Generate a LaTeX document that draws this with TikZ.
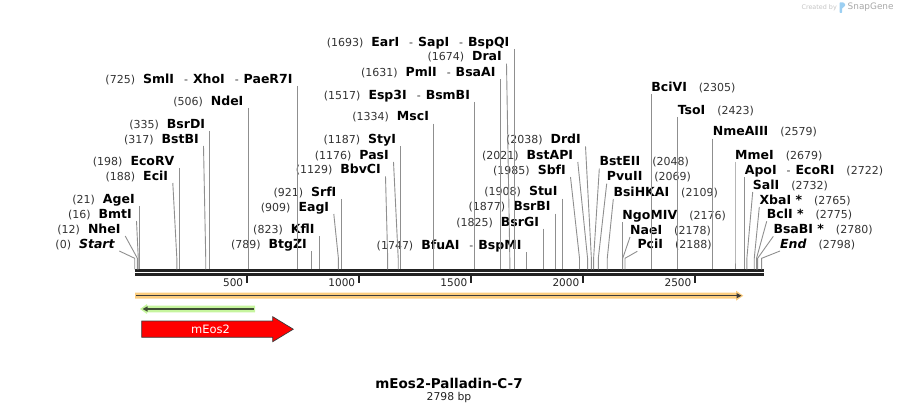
\documentclass[tikz,border=0pt]{standalone}
\usepackage{fontspec}
\setmainfont{DejaVu Sans}
\usepackage{xcolor}
\definecolor{cBar}{HTML}{222222}
\definecolor{cCut}{HTML}{8F8F8F}
\definecolor{cNum}{HTML}{333333}
\definecolor{cOrange}{HTML}{FCCD7E}
\definecolor{cGreen}{HTML}{C6F59E}
\definecolor{cDark}{HTML}{3C3C3C}
\definecolor{cGreenDark}{HTML}{3E4D33}
\definecolor{cRed}{HTML}{FF0000}
\definecolor{cLogo}{HTML}{A8A8A8}
\definecolor{cLogoLight}{HTML}{C4C4C4}
\definecolor{cLogoBlue}{HTML}{9CCFF2}
\usepackage{tikz}
\usetikzlibrary{arrows.meta}
% bp -> x on the ruler (1pt = 1px of the map)
\newcommand{\bpx}[1]{134.7+0.22408*#1}
\newcommand{\enz}[1]{{\color{black}\fontsize{12.5}{14}\selectfont\bfseries #1}}
\tikzset{
  lbl-l/.style={anchor=base east,inner xsep=4.5pt,inner ysep=0pt,
    text height=9pt,text depth=2.5pt,font=\fontsize{11}{13}\selectfont,text=cNum},
  lbl-r/.style={anchor=base west,inner xsep=0pt,inner ysep=0pt,
    text height=9pt,text depth=2.5pt,font=\fontsize{11}{13}\selectfont,text=cNum},
  cut/.style={draw=cCut,line width=0.9pt},
  seq-line/.style={draw=cBar,line width=2.2pt},
  ruler-tick/.style={draw=cBar,line width=1.8pt},
  ruler-lbl/.style={anchor=east,inner sep=0pt,font=\fontsize{10.5}{12}\selectfont,text=cBar},
  feat-line/.style={draw=cDark,line width=1.3pt},
}

\begin{document}
\begin{tikzpicture}[x=1pt,y=-1pt]
  \useasboundingbox (0,0) rectangle (899,414);

  % sequence and ruler
  \draw[seq-line] (135,270.5) -- (764,270.5);
  \draw[seq-line] (135,274.5) -- (764,274.5);
  \draw[ruler-tick] ({\bpx{500}},275.5)  -- ({\bpx{500}},282.7);
  \draw[ruler-tick] ({\bpx{1000}},275.5) -- ({\bpx{1000}},282.7);
  \draw[ruler-tick] ({\bpx{1500}},275.5) -- ({\bpx{1500}},282.7);
  \draw[ruler-tick] ({\bpx{2000}},275.5) -- ({\bpx{2000}},282.7);
  \draw[ruler-tick] ({\bpx{2500}},275.5) -- ({\bpx{2500}},282.7);
  \node[ruler-lbl] (t500)  at ({\bpx{500}-3.4},282.2)  {500};
  \node[ruler-lbl] (t1000) at ({\bpx{1000}-3.4},282.2) {1000};
  \node[ruler-lbl] (t1500) at ({\bpx{1500}-3.4},282.2) {1500};
  \node[ruler-lbl] (t2000) at ({\bpx{2000}-3.4},282.2) {2000};
  \node[ruler-lbl] (t2500) at ({\bpx{2500}-3.4},282.2) {2500};

  % cut sites on the sequence
  \coordinate (s-start)   at ({\bpx{0}},269.3);
  \coordinate (s-nhei)    at ({\bpx{12}},269.3);
  \coordinate (s-bmti)    at ({\bpx{16}},269.3);
  \coordinate (s-agei)    at ({\bpx{21}},269.3);
  \coordinate (s-ecii)    at ({\bpx{188}},269.3);
  \coordinate (s-ecorv)   at ({\bpx{198}},269.3);
  \coordinate (s-bstbi)   at ({\bpx{317}},269.3);
  \coordinate (s-bsrdi)   at ({\bpx{335}},269.3);
  \coordinate (s-ndei)    at ({\bpx{506}},269.3);
  \coordinate (s-smli)    at ({\bpx{725}},269.3);
  \coordinate (s-btgzi)   at ({\bpx{789}},269.3);
  \coordinate (s-kfli)    at ({\bpx{823}},269.3);
  \coordinate (s-eagi)    at ({\bpx{909}},269.3);
  \coordinate (s-srfi)    at ({\bpx{921}},269.3);
  \coordinate (s-bbvci)   at ({\bpx{1129}},269.3);
  \coordinate (s-pasi)    at ({\bpx{1176}},269.3);
  \coordinate (s-styi)    at ({\bpx{1187}},269.3);
  \coordinate (s-msci)    at ({\bpx{1334}},269.3);
  \coordinate (s-esp3i)   at ({\bpx{1517}},269.3);
  \coordinate (s-pmli)    at ({\bpx{1631}},269.3);
  \coordinate (s-drai)    at ({\bpx{1674}},269.3);
  \coordinate (s-eari)    at ({\bpx{1693}},269.3);
  \coordinate (s-bfuai)   at ({\bpx{1747}},269.3);
  \coordinate (s-bsrgi)   at ({\bpx{1825}},269.3);
  \coordinate (s-bsrbi)   at ({\bpx{1877}},269.3);
  \coordinate (s-stui)    at ({\bpx{1908}},269.3);
  \coordinate (s-sbfi)    at ({\bpx{1985}},269.3);
  \coordinate (s-bstapi)  at ({\bpx{2021}},269.3);
  \coordinate (s-drdi)    at ({\bpx{2038}},269.3);
  \coordinate (s-bsteii)  at ({\bpx{2048}},269.3);
  \coordinate (s-pvuii)   at ({\bpx{2069}},269.3);
  \coordinate (s-bsihkai) at ({\bpx{2109}},269.3);
  \coordinate (s-ngomiv)  at ({\bpx{2176}},269.3);
  \coordinate (s-naei)    at ({\bpx{2178}},269.3);
  \coordinate (s-pcii)    at ({\bpx{2188}},269.3);
  \coordinate (s-bcivi)   at ({\bpx{2305}},269.3);
  \coordinate (s-tsoi)    at ({\bpx{2423}},269.3);
  \coordinate (s-nmeaiii) at ({\bpx{2579}},269.3);
  \coordinate (s-mmei)    at ({\bpx{2679}},269.3);
  \coordinate (s-apoi)    at ({\bpx{2722}},269.3);
  \coordinate (s-sali)    at ({\bpx{2732}},269.3);
  \coordinate (s-xbai)    at ({\bpx{2765}},269.3);
  \coordinate (s-bcli)    at ({\bpx{2775}},269.3);
  \coordinate (s-bsabi)   at ({\bpx{2780}},269.3);
  \coordinate (s-end)     at ({\bpx{2798}},269.3);

  % enzymes, labels to the left of their line
  \node[lbl-l] (n-start)  at (119.3,248.3)          {(0)\hspace{8pt}\enz{\itshape Start}};
  \node[lbl-l] (n-nhei)   at (125.2,233.3)          {(12)\hspace{8pt}\enz{NheI}};
  \node[lbl-l] (n-bmti)   at (136.5,218.3)          {(16)\hspace{8pt}\enz{BmtI}};
  \node[lbl-l] (n-agei)   at ({\bpx{21}},203.3)     {(21)\hspace{8pt}\enz{AgeI}};
  \node[lbl-l] (n-ecii)   at (172.8,180.3)          {(188)\hspace{8pt}\enz{EciI}};
  \node[lbl-l] (n-ecorv)  at ({\bpx{198}},165.3)    {(198)\hspace{8pt}\enz{EcoRV}};
  \node[lbl-l] (n-bstbi)  at (203.5,143.3)          {(317)\hspace{8pt}\enz{BstBI}};
  \node[lbl-l] (n-bsrdi)  at ({\bpx{335}},128.3)    {(335)\hspace{8pt}\enz{BsrDI}};
  \node[lbl-l] (n-ndei)   at ({\bpx{506}},105.3)    {(506)\hspace{8pt}\enz{NdeI}};
  \node[lbl-l] (n-smli)   at ({\bpx{725}},83.3)     {(725)\hspace{8pt}\enz{SmlI}\hspace{10pt}-\hspace{5pt}\enz{XhoI}\hspace{10pt}-\hspace{5pt}\enz{PaeR7I}};
  \node[lbl-l] (n-btgzi)  at ({\bpx{789}},248.3)    {(789)\hspace{8pt}\enz{BtgZI}};
  \node[lbl-l] (n-kfli)   at ({\bpx{823}},233.3)    {(823)\hspace{8pt}\enz{KflI}};
  \node[lbl-l] (n-eagi)   at (333.8,211.3)          {(909)\hspace{8pt}\enz{EagI}};
  \node[lbl-l] (n-srfi)   at ({\bpx{921}},196.3)    {(921)\hspace{8pt}\enz{SrfI}};
  \node[lbl-l] (n-bbvci)  at (385.5,173.6)          {(1129)\hspace{8pt}\enz{BbvCI}};
  \node[lbl-l] (n-pasi)   at (393.5,159.3)          {(1176)\hspace{8pt}\enz{PasI}};
  \node[lbl-l] (n-styi)   at ({\bpx{1187}},143.6)   {(1187)\hspace{8pt}\enz{StyI}};
  \node[lbl-l] (n-msci)   at ({\bpx{1334}},121)     {(1334)\hspace{8pt}\enz{MscI}};
  \node[lbl-l] (n-esp3i)  at ({\bpx{1517}},99.3)    {(1517)\hspace{8pt}\enz{Esp3I}\hspace{10pt}-\hspace{5pt}\enz{BsmBI}};
  \node[lbl-l] (n-pmli)   at ({\bpx{1631}},76.6)    {(1631)\hspace{8pt}\enz{PmlI}\hspace{10pt}-\hspace{5pt}\enz{BsaAI}};
  \node[lbl-l] (n-drai)   at (506.5,61)             {(1674)\hspace{8pt}\enz{DraI}};
  \node[lbl-l] (n-eari)   at ({\bpx{1693}},46.3)    {(1693)\hspace{8pt}\enz{EarI}\hspace{10pt}-\hspace{5pt}\enz{SapI}\hspace{10pt}-\hspace{5pt}\enz{BspQI}};
  \node[lbl-l] (n-bfuai)  at ({\bpx{1747}},249.3)   {(1747)\hspace{8pt}\enz{BfuAI}\hspace{10pt}-\hspace{5pt}\enz{BspMI}};
  \node[lbl-l] (n-bsrgi)  at ({\bpx{1825}},226)     {(1825)\hspace{8pt}\enz{BsrGI}};
  \node[lbl-l] (n-bsrbi)  at ({\bpx{1877}},211)     {(1877)\hspace{8pt}\enz{BsrBI}};
  \node[lbl-l] (n-stui)   at ({\bpx{1908}},196)     {(1908)\hspace{8pt}\enz{StuI}};
  \node[lbl-l] (n-sbfi)   at (570.5,174.3)          {(1985)\hspace{8pt}\enz{SbfI}};
  \node[lbl-l] (n-bstapi) at (577.8,159.3)          {(2021)\hspace{8pt}\enz{BstAPI}};
  \node[lbl-l] (n-drdi)   at (585.5,143.6)          {(2038)\hspace{8pt}\enz{DrdI}};

  % enzymes, labels to the right of their line
  \node[lbl-r] (n-bsteii)  at (599.3,166)           {\enz{BstEII}\hspace{12pt}(2048)};
  \node[lbl-r] (n-pvuii)   at (606.7,181)           {\enz{PvuII}\hspace{12pt}(2069)};
  \node[lbl-r] (n-bsihkai) at (613.3,196.3)         {\enz{BsiHKAI}\hspace{12pt}(2109)};
  \node[lbl-r] (n-ngomiv)  at ({\bpx{2176}},219.3)  {\enz{NgoMIV}\hspace{12pt}(2176)};
  \node[lbl-r] (n-naei)    at (630,234.3)           {\enz{NaeI}\hspace{12pt}(2178)};
  \node[lbl-r] (n-pcii)    at (637.3,248.6)         {\enz{PciI}\hspace{12pt}(2188)};
  \node[lbl-r] (n-bcivi)   at ({\bpx{2305}},91.6)   {\enz{BciVI}\hspace{12pt}(2305)};
  \node[lbl-r] (n-tsoi)    at ({\bpx{2423}},114.3)  {\enz{TsoI}\hspace{12pt}(2423)};
  \node[lbl-r] (n-nmeaiii) at ({\bpx{2579}},136)    {\enz{NmeAIII}\hspace{12pt}(2579)};
  \node[lbl-r] (n-mmei)    at ({\bpx{2679}},159.3)  {\enz{MmeI}\hspace{12pt}(2679)};
  \node[lbl-r] (n-apoi)    at ({\bpx{2722}},174.3)  {\enz{ApoI}\hspace{10pt}-\hspace{5pt}\enz{EcoRI}\hspace{12pt}(2722)};
  \node[lbl-r] (n-sali)    at (752.7,189.3)         {\enz{SalI}\hspace{12pt}(2732)};
  \node[lbl-r] (n-xbai)    at (759.3,204.3)         {\enz{XbaI *}\hspace{12pt}(2765)};
  \node[lbl-r] (n-bcli)    at (766.7,218.6)         {\enz{BclI *}\hspace{12pt}(2775)};
  \node[lbl-r] (n-bsabi)   at (773.3,233.6)         {\enz{BsaBI *}\hspace{12pt}(2780)};
  \node[lbl-r] (n-end)     at (780,248.3)           {\enz{\itshape End}\hspace{12pt}(2798)};

  % site lines
  \draw[cut] (n-start.south east)  -- ([yshift=11pt]s-start)  -- (s-start);
  \draw[cut] (n-nhei.south east)   -- ([yshift=11pt]s-nhei)   -- (s-nhei);
  \draw[cut] (n-bmti.south east)   -- ([yshift=11pt]s-bmti)   -- (s-bmti);
  \draw[cut] (n-agei.south east)   -- ([yshift=11pt]s-agei)   -- (s-agei);
  \draw[cut] (n-ecii.south east)   -- ([yshift=11pt]s-ecii)   -- (s-ecii);
  \draw[cut] (n-ecorv.south east)  -- ([yshift=11pt]s-ecorv)  -- (s-ecorv);
  \draw[cut] (n-bstbi.south east)  -- ([yshift=11pt]s-bstbi)  -- (s-bstbi);
  \draw[cut] (n-bsrdi.south east)  -- ([yshift=11pt]s-bsrdi)  -- (s-bsrdi);
  \draw[cut] (n-ndei.south east)   -- ([yshift=11pt]s-ndei)   -- (s-ndei);
  \draw[cut] (n-smli.south east)   -- ([yshift=11pt]s-smli)   -- (s-smli);
  \draw[cut] (n-btgzi.south east)  -- ([yshift=11pt]s-btgzi)  -- (s-btgzi);
  \draw[cut] (n-kfli.south east)   -- ([yshift=11pt]s-kfli)   -- (s-kfli);
  \draw[cut] (n-eagi.south east)   -- ([yshift=11pt]s-eagi)   -- (s-eagi);
  \draw[cut] (n-srfi.south east)   -- ([yshift=11pt]s-srfi)   -- (s-srfi);
  \draw[cut] (n-bbvci.south east)  -- ([yshift=11pt]s-bbvci)  -- (s-bbvci);
  \draw[cut] (n-pasi.south east)   -- ([yshift=11pt]s-pasi)   -- (s-pasi);
  \draw[cut] (n-styi.south east)   -- ([yshift=11pt]s-styi)   -- (s-styi);
  \draw[cut] (n-msci.south east)   -- ([yshift=11pt]s-msci)   -- (s-msci);
  \draw[cut] (n-esp3i.south east)  -- ([yshift=11pt]s-esp3i)  -- (s-esp3i);
  \draw[cut] (n-pmli.south east)   -- ([yshift=11pt]s-pmli)   -- (s-pmli);
  \draw[cut] (n-drai.south east)   -- ([yshift=11pt]s-drai)   -- (s-drai);
  \draw[cut] (n-eari.south east)   -- ([yshift=11pt]s-eari)   -- (s-eari);
  \draw[cut] (n-bfuai.south east)  -- ([yshift=11pt]s-bfuai)  -- (s-bfuai);
  \draw[cut] (n-bsrgi.south east)  -- ([yshift=11pt]s-bsrgi)  -- (s-bsrgi);
  \draw[cut] (n-bsrbi.south east)  -- ([yshift=11pt]s-bsrbi)  -- (s-bsrbi);
  \draw[cut] (n-stui.south east)   -- ([yshift=11pt]s-stui)   -- (s-stui);
  \draw[cut] (n-sbfi.south east)   -- ([yshift=11pt]s-sbfi)   -- (s-sbfi);
  \draw[cut] (n-bstapi.south east) -- ([yshift=11pt]s-bstapi) -- (s-bstapi);
  \draw[cut] (n-drdi.south east)   -- ([yshift=11pt]s-drdi)   -- (s-drdi);
  \draw[cut] (n-bsteii.south west)  -- ([yshift=11pt]s-bsteii)  -- (s-bsteii);
  \draw[cut] (n-pvuii.south west)   -- ([yshift=11pt]s-pvuii)   -- (s-pvuii);
  \draw[cut] (n-bsihkai.south west) -- ([yshift=11pt]s-bsihkai) -- (s-bsihkai);
  \draw[cut] (n-ngomiv.south west)  -- ([yshift=11pt]s-ngomiv)  -- (s-ngomiv);
  \draw[cut] (n-naei.south west)    -- ([yshift=11pt]s-naei)    -- (s-naei);
  \draw[cut] (n-pcii.south west)    -- ([yshift=11pt]s-pcii)    -- (s-pcii);
  \draw[cut] (n-bcivi.south west)   -- ([yshift=11pt]s-bcivi)   -- (s-bcivi);
  \draw[cut] (n-tsoi.south west)    -- ([yshift=11pt]s-tsoi)    -- (s-tsoi);
  \draw[cut] (n-nmeaiii.south west) -- ([yshift=11pt]s-nmeaiii) -- (s-nmeaiii);
  \draw[cut] (n-mmei.south west)    -- ([yshift=11pt]s-mmei)    -- (s-mmei);
  \draw[cut] (n-apoi.south west)    -- ([yshift=11pt]s-apoi)    -- (s-apoi);
  \draw[cut] (n-sali.south west)    -- ([yshift=11pt]s-sali)    -- (s-sali);
  \draw[cut] (n-xbai.south west)    -- ([yshift=11pt]s-xbai)    -- (s-xbai);
  \draw[cut] (n-bcli.south west)    -- ([yshift=11pt]s-bcli)    -- (s-bcli);
  \draw[cut] (n-bsabi.south west)   -- ([yshift=11pt]s-bsabi)   -- (s-bsabi);
  \draw[cut] (n-end.south west)     -- ([yshift=11pt]s-end)     -- (s-end);

  % features
  \fill[cOrange] (135,292.7) -- (736,292.7) -- (736,290.7) -- (743.3,295.7)
    -- (736,300.7) -- (736,298.7) -- (135,298.7) -- cycle;
  \draw[feat-line,-{Triangle[length=5pt,width=5pt]}] (136,295.7) -- (741.5,295.7);
  \fill[cGreen] (255,305.7) -- (147,305.7) -- (147,304) -- (140,309)
    -- (147,314) -- (147,312.3) -- (255,312.3) -- cycle;
  \draw[feat-line,draw=cGreenDark,-{Triangle[length=5pt,width=5pt]}] (253.5,309) -- (142.5,309);
  \draw[fill=cRed,draw=cDark,line width=0.7pt] (141.7,321) -- (272.7,321) -- (272.7,316.7)
    -- (293.3,329.2) -- (272.7,341.7) -- (272.7,337.3) -- (141.7,337.3) -- cycle;
  \node[text=white,font=\fontsize{11.5}{13}\selectfont] (meos2) at (210.5,329.3) {mEos2};

  % title
  \node[font=\fontsize{13.5}{15}\selectfont\bfseries] (title) at (449,383) {mEos2-Palladin-C-7};
  \node[font=\fontsize{10.8}{12}\selectfont,text=cBar] (len) at (449,398) {2798 bp};

  % logo
  \node[anchor=east,inner sep=0pt,text=cLogoLight,font=\fontsize{6.4}{8}\selectfont] (logo-by) at (837,7.3) {Created by};
  \fill[cLogoBlue,rounded corners=0.8pt] (839.5,13) -- (839.5,2.3) -- (843.5,2.3) -- (845.5,4.8)
    -- (843.5,7.6) -- (842.2,7.6) -- (842.2,13) -- cycle;
  \node[anchor=west,inner sep=0pt,text=cLogo,font=\fontsize{8.9}{10}\selectfont] (logo-sg) at (847.5,7.3) {SnapGene};
\end{tikzpicture}
\end{document}
